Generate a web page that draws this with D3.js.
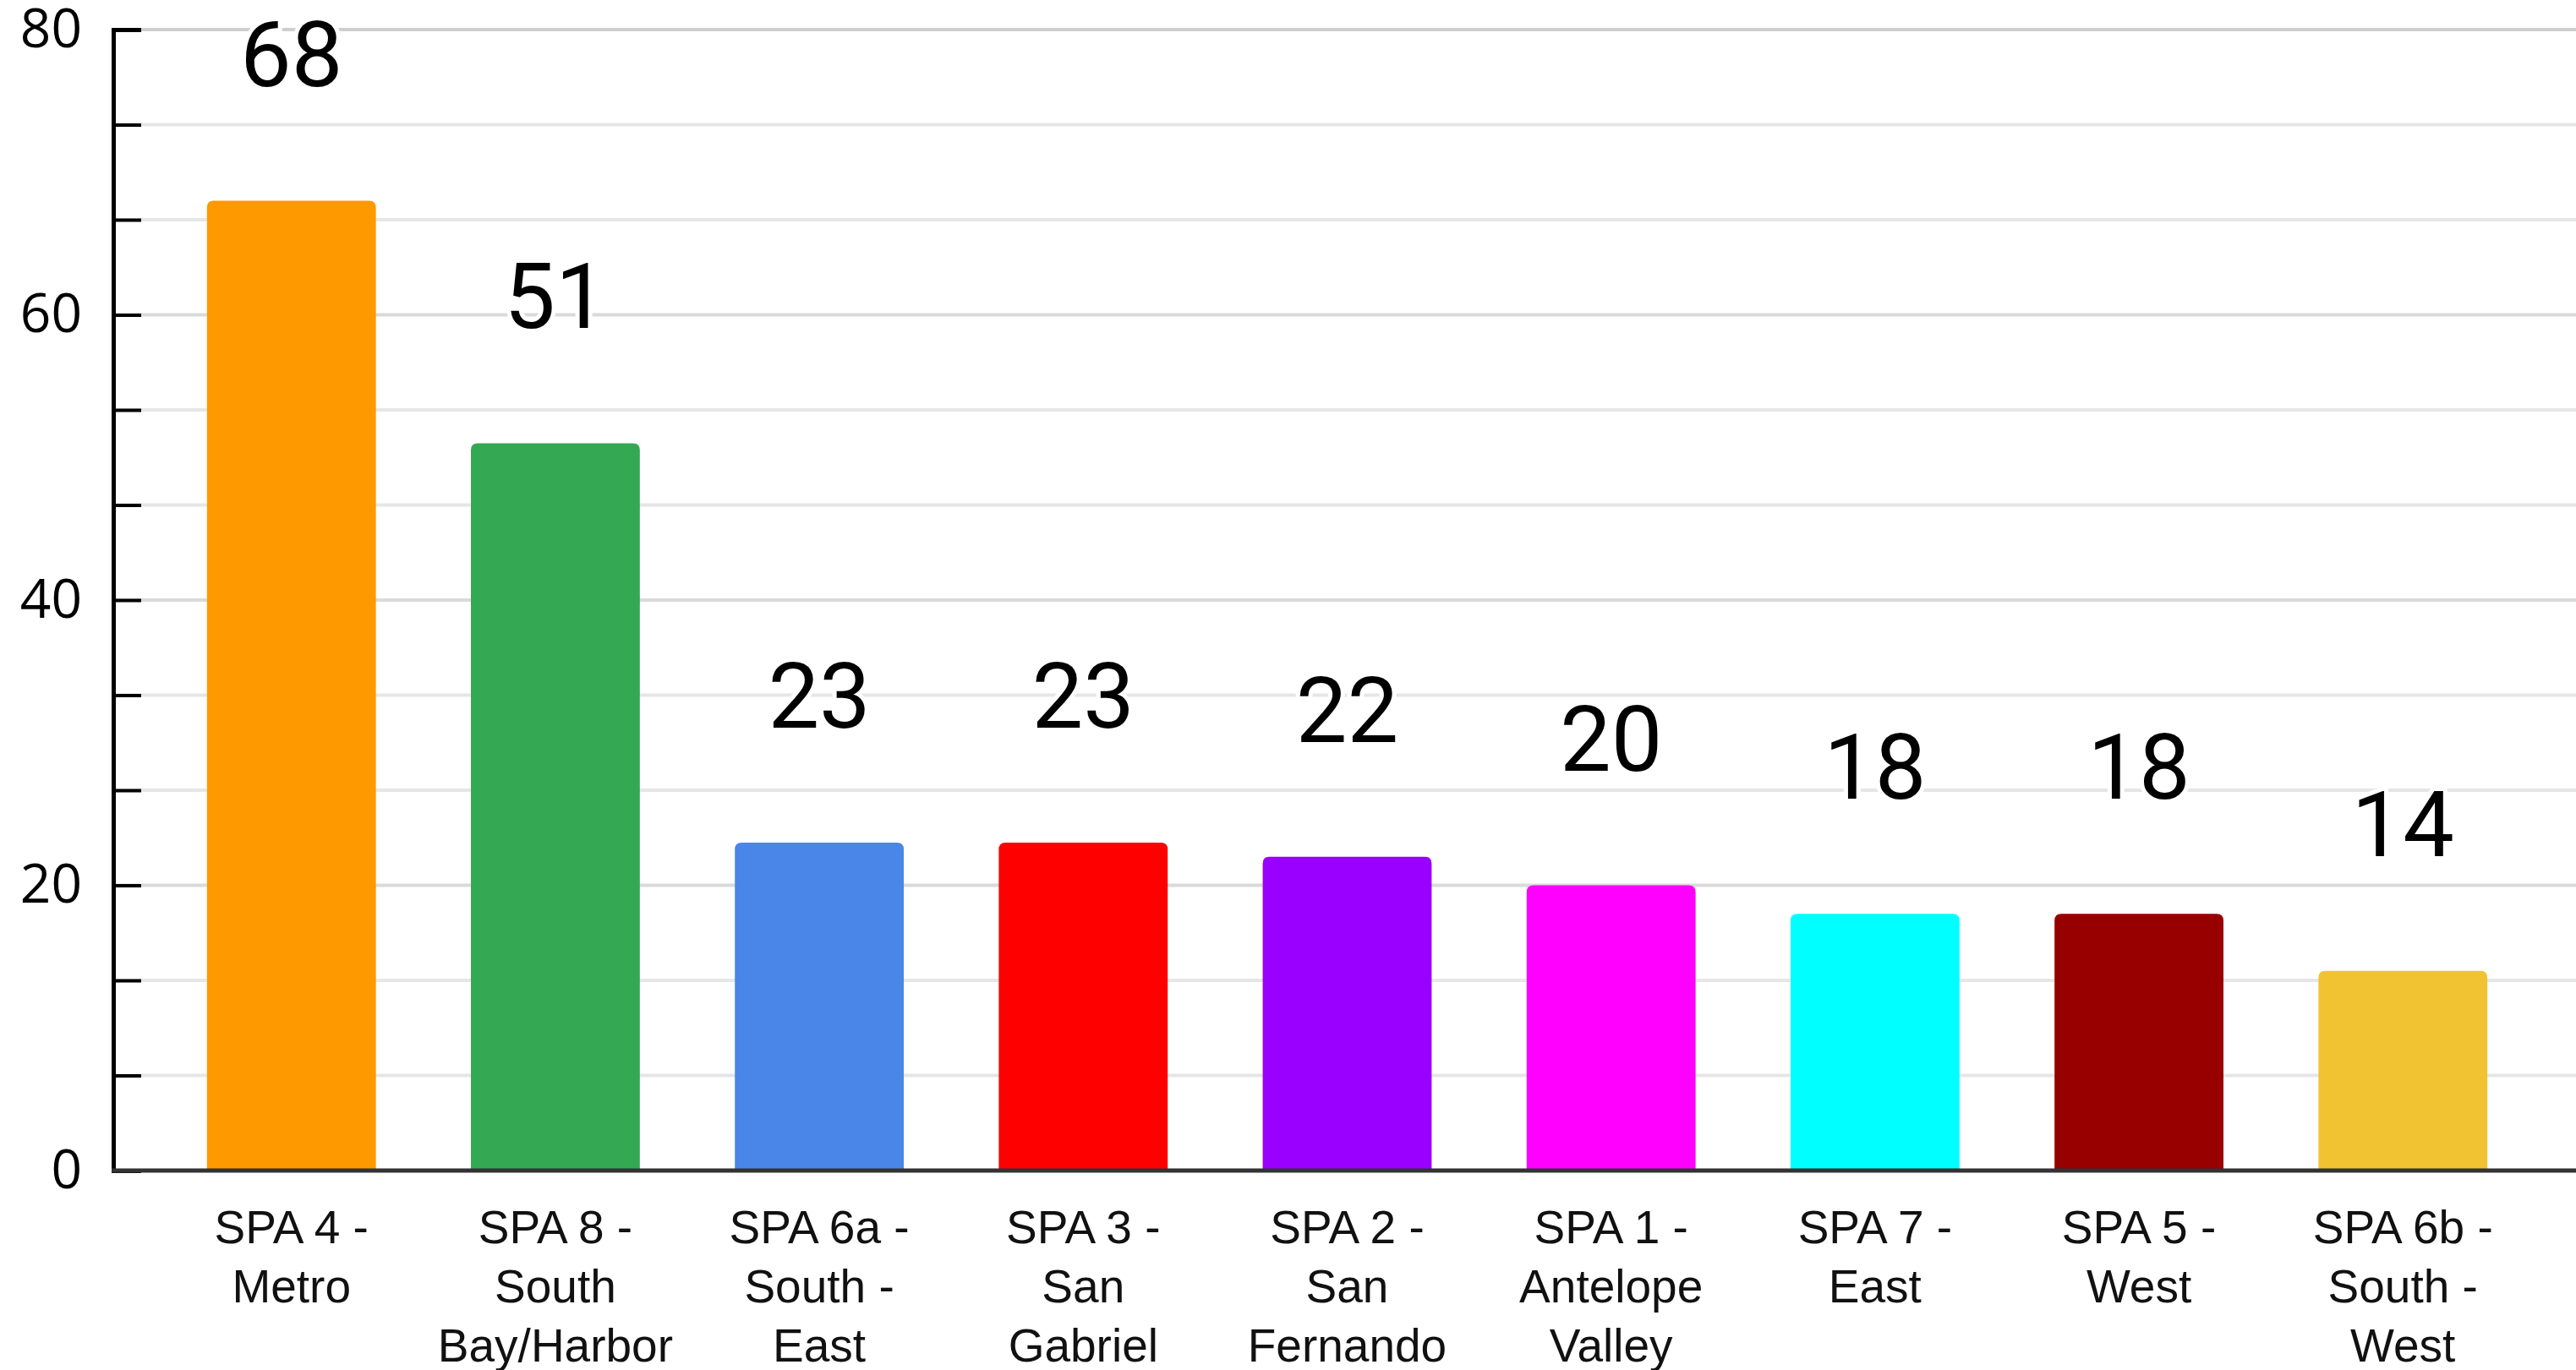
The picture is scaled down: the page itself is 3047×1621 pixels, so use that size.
<!DOCTYPE html>
<html lang="en">
<head>
    <meta charset="UTF-8">
    <title>SPA Bar Chart</title>
    <script src="https://cdn.jsdelivr.net/npm/d3@7"></script>
    <style>
        body { margin: 0; background: #fff; }
    </style>
</head>
<body>
<script>
    // data
    var categories = ["SPA 4 -\nMetro", "SPA 8 -\nSouth\nBay/Harbor", "SPA 6a -\nSouth -\nEast",
        "SPA 3 -\nSan\nGabriel", "SPA 2 -\nSan\nFernando", "SPA 1 -\nAntelope\nValley",
        "SPA 7 -\nEast", "SPA 5 -\nWest", "SPA 6b -\nSouth -\nWest"];
    var values = [68, 51, 23, 23, 22, 20, 18, 18, 14];
    var barColors = ["#ff9900", "#34a853", "#4a86e8", "#ff0000", "#9900ff", "#ff00ff", "#00ffff", "#980000", "#f1c232"];
    var yTickLabels = [0, 20, 40, 60, 80];
    var minorPerMajor = 3;

    var widthSVG = 3047, heightSVG = 1621;
    var axisX0 = 134, plotTop = 35, baseY = 1385;

    var svg = d3.select("body").append("svg")
        .attr("width", widthSVG)
        .attr("height", heightSVG);

    var scaleX = d3.scaleBand()
        .domain(d3.range(categories.length))
        .range([axisX0, 3053])
        .paddingInner(0.36)
        .paddingOuter(0.355);

    var scaleY = d3.scaleLinear()
        .domain([0, d3.max(yTickLabels)])
        .range([baseY, plotTop]);

    // all tick positions (minor ones between labelled ones)
    var stepVal = yTickLabels[1] - yTickLabels[0];
    var tickVals = [];
    for (var i = 0; i < yTickLabels.length - 1; i++) {
        for (var j = 0; j < minorPerMajor; j++) {
            tickVals.push(yTickLabels[i] + stepVal * j / minorPerMajor);
        }
    }
    tickVals.push(yTickLabels[yTickLabels.length - 1]);

    // gridlines
    svg.append("g").selectAll("line")
        .data(tickVals.filter(function (d) { return d > 0; }))
        .enter().append("line")
        .attr("x1", axisX0).attr("x2", widthSVG)
        .attr("y1", function (d) { return scaleY(d); })
        .attr("y2", function (d) { return scaleY(d); })
        .attr("stroke", function (d) {
            if (d === d3.max(yTickLabels)) return "#cfcfcf";
            return yTickLabels.indexOf(d) >= 0 ? "#dadada" : "#e6e6e6";
        })
        .attr("stroke-width", 4);

    // bars with rounded tops
    var r = 8;
    svg.append("g").selectAll("path")
        .data(values)
        .enter().append("path")
        .attr("d", function (d, i) {
            var x = scaleX(i), w = scaleX.bandwidth(), y = scaleY(d), b = scaleY(0);
            return "M" + x + "," + b + "V" + (y + r) + "Q" + x + "," + y + " " + (x + r) + "," + y +
                "H" + (x + w - r) + "Q" + (x + w) + "," + y + " " + (x + w) + "," + (y + r) + "V" + b + "Z";
        })
        .attr("fill", function (d, i) { return barColors[i]; });

    // value labels
    svg.append("g").selectAll("text")
        .data(values)
        .enter().append("text")
        .attr("x", function (d, i) { return scaleX(i) + scaleX.bandwidth() / 2; })
        .attr("y", function (d) { return scaleY(d) - 136; })
        .attr("text-anchor", "middle")
        .attr("font-family", "Roboto, sans-serif")
        .attr("font-size", "108px")
        .attr("fill", "#000")
        .attr("stroke", "#fff")
        .attr("stroke-width", 10)
        .attr("paint-order", "stroke")
        .text(function (d) { return d; });

    // y axis
    var axisY = d3.axisLeft(scaleY)
        .tickValues(tickVals)
        .tickSize(-33)
        .tickPadding(37)
        .tickFormat(function (d) { return yTickLabels.indexOf(d) >= 0 ? d : ""; });
    var gy = svg.append("g").attr("transform", "translate(" + axisX0 + ",0)").call(axisY);
    gy.select(".domain").attr("stroke", "#000").attr("stroke-width", 5);
    gy.selectAll(".tick line").attr("stroke", "#000").attr("stroke-width", 4);
    gy.selectAll(".tick text")
        .attr("font-family", "'Open Sans', sans-serif")
        .attr("font-size", "64px")
        .attr("fill", "#000");

    // baseline
    svg.append("line")
        .attr("x1", axisX0 - 2).attr("x2", widthSVG)
        .attr("y1", baseY).attr("y2", baseY)
        .attr("stroke", "#333").attr("stroke-width", 5);

    // category labels
    var labels = svg.append("g").selectAll("text")
        .data(categories)
        .enter().append("text")
        .attr("x", function (d, i) { return scaleX(i) + scaleX.bandwidth() / 2; })
        .attr("y", 1471)
        .attr("text-anchor", "middle")
        .attr("font-family", "'Liberation Sans', Arial, sans-serif")
        .attr("font-size", "55px")
        .attr("fill", "#111");
    labels.each(function (d) {
        var t = d3.select(this);
        d.split("\n").forEach(function (line, k) {
            t.append("tspan")
                .attr("x", t.attr("x"))
                .attr("dy", k === 0 ? 0 : 70)
                .text(line);
        });
    });
</script>
</body>
</html>
